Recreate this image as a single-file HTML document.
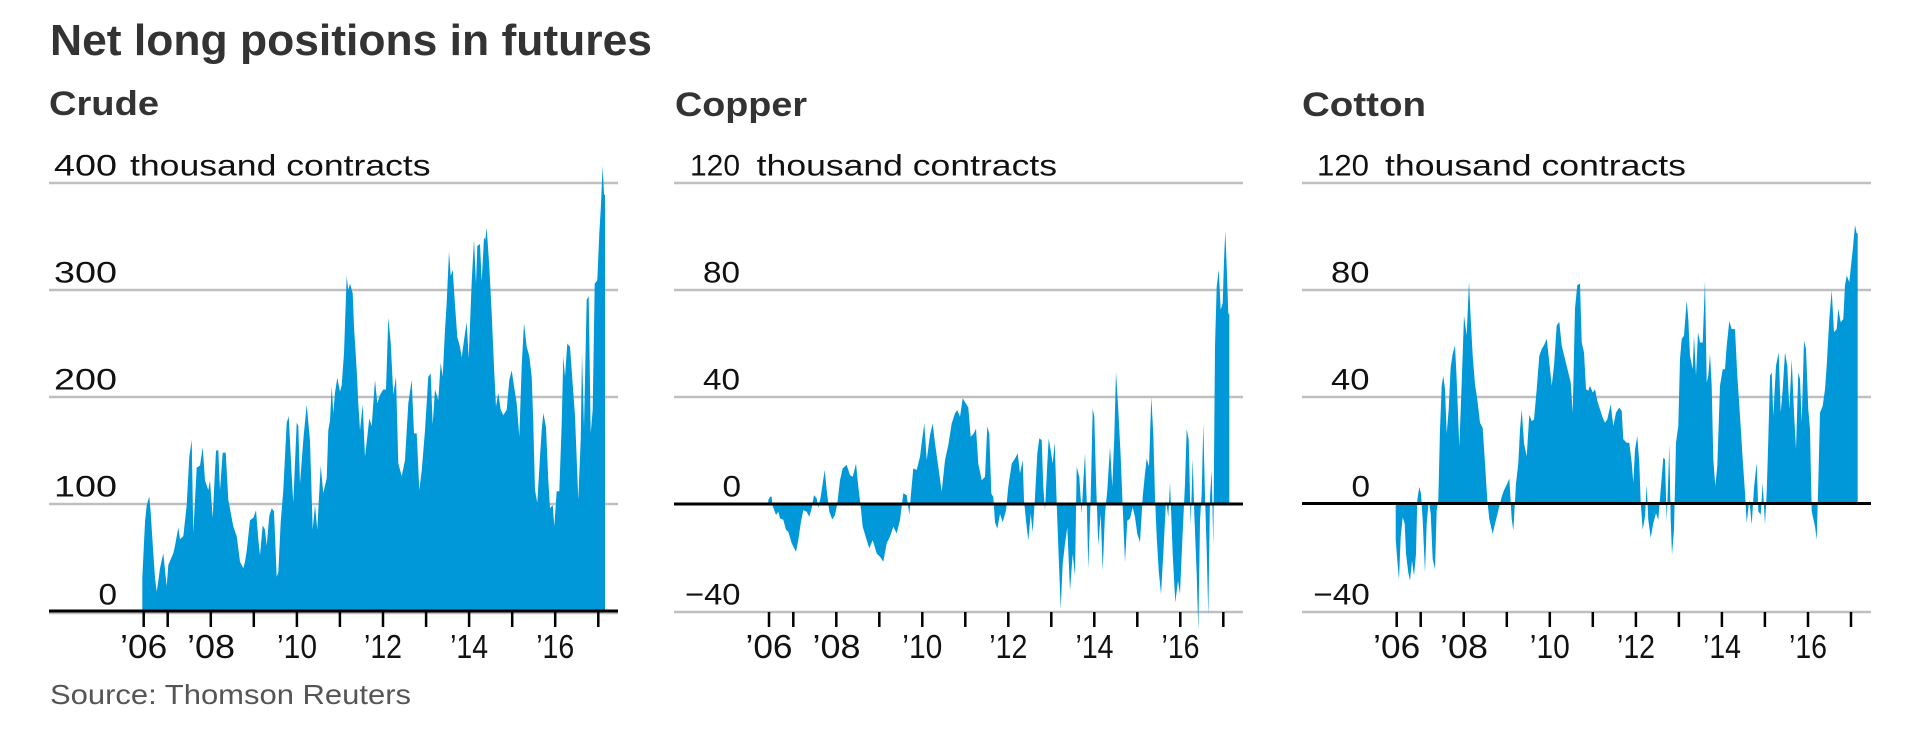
<!DOCTYPE html>
<html>
<head>
<meta charset="utf-8">
<style>
  html,body{margin:0;padding:0;background:#fff;}
  svg{display:block;}
  text{font-family:"Liberation Sans",Arial,sans-serif;}
  .t{font-weight:bold;fill:#333;}
  .lab{font-size:30px;fill:#111;}
  .yr{font-size:33px;fill:#111;text-anchor:middle;}
</style>
</head>
<body>
<svg width="1907" height="748" viewBox="0 0 1907 748" xmlns="http://www.w3.org/2000/svg">
  <rect width="1907" height="748" fill="#fff"/>

  <!-- Titles -->
  <text class="t" x="50" y="55" font-size="44" textLength="602" lengthAdjust="spacingAndGlyphs">Net long positions in futures</text>
  <text class="t" x="49" y="115" font-size="34" textLength="110" lengthAdjust="spacingAndGlyphs">Crude</text>
  <text class="t" x="675" y="116" font-size="34" textLength="132" lengthAdjust="spacingAndGlyphs">Copper</text>
  <text class="t" x="1302" y="116" font-size="34" textLength="124" lengthAdjust="spacingAndGlyphs">Cotton</text>

  <!-- Gridlines -->
  <g stroke="#bfbfbf" stroke-width="2.5">
    <line x1="49" y1="183" x2="618" y2="183"/>
    <line x1="49" y1="290" x2="618" y2="290"/>
    <line x1="49" y1="397" x2="618" y2="397"/>
    <line x1="49" y1="504" x2="618" y2="504"/>
    <line x1="49" y1="613" x2="618" y2="613"/>

    <line x1="674" y1="183" x2="1243" y2="183"/>
    <line x1="674" y1="290" x2="1243" y2="290"/>
    <line x1="674" y1="397" x2="1243" y2="397"/>
    <line x1="674" y1="612" x2="1243" y2="612"/>

    <line x1="1302" y1="183" x2="1871" y2="183"/>
    <line x1="1302" y1="290" x2="1871" y2="290"/>
    <line x1="1302" y1="397" x2="1871" y2="397"/>
    <line x1="1302" y1="612" x2="1871" y2="612"/>
  </g>

  <!-- Crude area -->
  <polygon fill="#0098d9" points="142.3,611 142.3,577.8 145,522.2 146.7,505.1 149.3,496.5 150.7,512.6 153.3,553.2 155,577.8 156.7,591.7 158.3,581 160,568.2 163.3,553.2 166.7,586.4 168.3,565 173.3,553.2 175,545.7 178.3,527.5 180,539.3 183.3,536.1 186.7,505.1 189.3,456.9 191.7,439.8 193.3,532.9 196.7,467.6 200,465.5 202.7,447.3 205,480.5 208.3,490.1 210,480.5 212.7,517.9 216,450.5 218.3,450.5 220,490.1 222.7,452.6 225.7,452.6 228.3,499.7 233.3,526.5 236.7,536.1 240,561.8 243.3,568.2 245,561.8 246.7,551.1 250,520.1 253.3,517.9 256,510.4 258.3,539.3 260,555.4 262.7,525.4 265,529.7 266.7,545.7 269.3,515.8 271.7,508.3 274,511.5 276.7,576.8 278.3,572.5 280.7,522.2 283.3,490.1 286.7,422.7 288.7,416.3 291.7,475.1 293.3,502.9 296.7,422.7 298.3,425.9 300,483.7 303.3,439.8 306.7,404.5 310,440.9 312.7,529.7 315,505.1 317.3,529.7 320.7,465.5 323.3,493.3 326.7,478.3 328.3,430.2 330,420.5 331.7,386.3 333.3,413.1 335,392.7 337.3,377.7 340,391.7 341.7,385.2 344,353.1 346.7,276.1 348.3,290 350,283.6 352.7,293.2 354,326.4 356.7,370.3 358.3,403.4 360,430.2 362.7,404.5 365,456.9 367.3,436.6 369.3,418.4 371.7,425.9 373.3,403.4 375,379.9 377.3,403.4 380,394.9 383.3,389.5 386,389.5 388.3,317.8 390.7,342.4 393.3,394.9 396,376.7 398.3,463.3 401.7,476.2 405,460.1 408.3,403.4 411.7,379.9 414,433.4 416.7,433.4 419.3,490.1 421.7,470.8 425,430.2 428.3,376.7 430.7,373.5 432.7,424.8 435,389.5 438.3,400.2 440.7,362.8 442.7,376.7 445,329.6 446.7,302.8 449,251.5 450.7,276.1 452.7,269.7 455,305 457.3,337.1 460,346.7 461.7,357.4 464,340.3 466.7,322.1 468.7,358.5 471.7,281.4 474,239.7 476,283.6 477.3,246.1 480,244 481.7,281.4 484,237.6 485.3,239.7 486.7,227.9 489.3,266.5 491.7,313.5 494,367 496,406.6 498.3,392.7 500.7,409.8 503.3,415.2 506.7,409.8 509.3,379.9 511.7,370.3 514,386.3 516.7,403.4 519.3,436.6 521.7,366 524,323.2 526.7,346.7 529.3,356.3 531.7,376.7 533.3,423.8 535,490.1 537.3,502.9 540,456.9 541.7,430.2 543.3,413.1 546,427 548.3,480.5 550,508.3 552.7,505.1 554.3,526.5 556.7,491.2 559.3,491.2 561.7,423.8 563.3,356.3 565,376.7 567.3,343.5 570,346.7 571.7,370.3 575,416.3 578.3,499.7 580.7,439.8 582,353.1 584,427 586.7,299.6 588.7,296.4 590.7,433.4 592.7,409.8 594.7,283.6 597.3,280.4 599.3,233.3 600.7,209.8 602.7,165.9 604,194.8 605,194.8 605,611"/>

  <!-- Copper area -->
  <polygon fill="#0098d9" points="768.3,503.7 768.3,500 770,496.7 771.7,496.7 772.3,505 776,515 778.3,511.7 780,518.4 783.3,519.8 786,529.9 788.3,531.8 791.7,543.3 796,551.9 798.3,540.1 800.7,523.5 803.3,510.1 806.7,511.7 809.3,516.8 811.7,508.2 814,495.1 816.7,498.4 818.3,508.2 820.7,496.7 822.7,483.4 824.7,470 826.7,490.3 829.3,511.7 832.3,519.5 835,515 837.3,503.7 840,480.2 842.7,468.4 846.7,464.9 850,475.1 852.7,476.9 856,463.6 858.3,486.6 860.7,506.6 862.7,526.7 866.7,540.1 869.3,548.4 872.7,540.1 876.7,553.5 880,556.7 883.3,561.7 886.7,543.3 890,536.6 893.3,526.7 896.7,533.4 900,520 903.3,493.3 906.7,495.1 909.3,515 910.7,496.7 913.3,468.4 916.7,470 920,456.6 922.3,438.4 924.3,423.5 926.7,460.1 930,435 932.7,423.5 935,443.2 938.3,466.8 941.7,491.7 945,460.1 948.3,445.1 951.7,423.5 955,413.3 957.3,410.1 960,416.8 962.7,398.3 965,402.1 968.3,407.4 970.7,436.8 973.3,434.1 976,428.8 978.3,463.6 981.7,480.2 985,476.9 987.3,426.1 989.3,434.1 991.3,493.5 993.3,497 995,522.2 997.3,528.8 1000,513.9 1002.7,522.2 1006,510.4 1008.3,486.8 1011.7,463.6 1015,458.5 1017.7,453.4 1020,473.5 1022.7,460.1 1024,500.2 1026,520.6 1028.3,540.6 1030.7,513.9 1032.7,532.1 1035,497 1037.3,453.4 1039.3,438.4 1041.7,440 1043.3,486.8 1045,510.4 1047.3,463.6 1048.7,438.4 1050.7,450.2 1052.7,463.6 1054.7,442.2 1056.7,503.7 1058.3,546.5 1060.7,609.1 1062.7,563.9 1065,543.8 1067.3,527.2 1070,590.6 1072.7,554 1075,575.7 1076.7,466.8 1079.3,477 1081.7,513.9 1083.3,482 1085,453.4 1086.7,500.2 1088.3,569 1090.7,497 1092.7,408.5 1094.3,416.8 1096,480.2 1098.3,545.4 1100.7,513.9 1102.7,570.6 1105,513.9 1107.3,490.3 1110,446.7 1112.3,486.8 1114.3,436.8 1116,371.6 1118.3,410.1 1120.7,456.9 1122.7,507.2 1125,562.3 1127.3,520.6 1130,518.7 1132.7,507.2 1135,517.1 1137.3,533.9 1140,542.2 1142.7,497 1145,473.5 1146.7,458.5 1149,466.8 1151.3,396.7 1153.3,434.1 1155,497 1156.7,537.1 1158.7,570.6 1161,594.1 1163.3,554 1166,500.2 1168.3,517.1 1170,482 1172.7,554 1175.3,602.4 1178,580.7 1180,594.1 1182.3,540.6 1185,483.6 1186.7,428.8 1188.7,440 1190.7,525.4 1192.7,458.5 1194.3,513.9 1196.7,574.1 1198.3,630.8 1200,520.6 1201.7,493.5 1203.3,423.5 1205,497 1206.7,550.5 1208.3,615.8 1210,497 1211.7,470.3 1213.3,547.3 1215,346.4 1216.7,287 1218.7,269.6 1220.7,309.7 1222.7,303.1 1224,260.3 1225.3,230.9 1226.7,266.2 1228.3,313.8 1229.3,313.8 1229.3,503.7"/>

  <!-- Cotton area -->
  <polygon fill="#0098d9" points="1395.7,503 1395.7,539.1 1397.3,560.8 1399,579.5 1400.7,537.2 1402.7,517.2 1404.7,523.9 1406,553.8 1408.3,572.6 1410,580.6 1412,560.8 1414,576 1416,553.8 1417.3,500.3 1419.3,487 1421,493.6 1422.7,520.4 1425,572.6 1426.7,523.9 1428.7,500.3 1430.7,513.7 1432.7,559.2 1435,569.3 1436.7,510.5 1438.3,500.3 1440,429.7 1441.7,385.8 1443.3,375.9 1445,389.3 1446.7,433.5 1448.7,409.4 1450.7,366.6 1452.7,354 1455,345.2 1456.7,380 1459.3,446.8 1461.7,382.6 1464,315.8 1466.7,335.5 1469,281.5 1470.7,318.4 1472.7,355.9 1475,384.2 1477.3,399.5 1480,422.8 1482.7,428.1 1485,463.4 1487.3,500.3 1489.3,519.1 1492.7,534 1495,523.9 1498.3,510.5 1501.7,496.8 1504,490.2 1507.3,483.5 1509.3,478.4 1511.7,519.1 1513.3,530.6 1516,483.5 1518.3,463.4 1520,429.7 1521.7,409.4 1524,443.1 1526.7,456.5 1529.3,414.7 1531.7,421.1 1534,419.5 1536.7,389.3 1539.3,355.9 1541.7,348.9 1544,345.4 1546.7,338.8 1549.3,362.3 1551.7,385.8 1554,365.8 1556.7,325.4 1559.3,321.9 1561.7,345.4 1565,359.1 1568.3,372.5 1570.7,382.6 1572.7,412.9 1575,308.5 1577.3,285 1580,283.7 1581.7,342.5 1584,352.4 1586,389.3 1588.3,390.7 1590,385.8 1592.7,392.5 1595,389.3 1597.3,400.8 1600,409.4 1602.7,417.7 1605,422.8 1607.3,419.3 1610.7,404.3 1613.3,426 1616,412.6 1619.3,407.5 1621.7,411 1623.3,439.3 1626.7,442.8 1629.3,442.8 1631.7,462.9 1633.3,482.9 1635,449.5 1637.3,436.1 1639.3,462.9 1640.7,503 1642.7,529.8 1645,516.4 1646.7,484.5 1648.3,519.9 1650.7,537.8 1653.3,523.1 1656,513.2 1658.3,519.9 1660.7,489.6 1663.3,457.8 1665,459.4 1666.7,521.5 1668.3,476.3 1669.3,444.4 1670.7,519.9 1672,554.9 1674,529.8 1676,442.8 1678.3,426 1680,359.1 1681.7,339 1684,335.5 1686.7,300.5 1688.3,319 1690,355.9 1692.7,369.3 1694,335.5 1696,375.7 1698,332.3 1700,342.5 1702.7,342.5 1705,280.4 1706.7,382.6 1708.3,375.7 1710,354 1711.7,385.8 1713.3,459.4 1715.3,486.1 1717.3,466.1 1720,385.8 1722.7,369.3 1725,369.3 1726.7,345.7 1729.3,321.1 1731.7,329.1 1735,329.1 1737.3,375.7 1740,416.1 1742.7,459.4 1745,492.8 1746.7,523.1 1749.3,499.5 1751.7,524.7 1754,488 1756.7,462.9 1758.3,511.3 1760.7,514.8 1762.7,482.9 1765,524.7 1766.7,492.8 1768.3,439.3 1770,375.7 1771.7,372.5 1773.3,416.1 1776,365.8 1778.7,352.4 1780.7,412.6 1782.7,389.3 1785,352.4 1787.3,365.8 1789.3,409.4 1791.7,359.1 1794,412.6 1796,449.5 1798.3,372.5 1800,379.1 1801.7,422.8 1804,340.6 1806,348.9 1808.3,409.4 1810,429.4 1811.7,511.3 1815,526.5 1816.7,539.9 1818.3,482.9 1820,412.6 1822.7,405.9 1825,389.3 1826.7,365.8 1829.3,319 1831.7,290.3 1834,332.3 1836.7,329.1 1838.3,308.8 1840.7,322.2 1843.3,319 1845,285.3 1846.7,275.6 1849.3,282 1850.7,268.7 1852.7,250.2 1855,225.1 1856.7,233.4 1857.7,233.4 1857.7,503"/>

  <!-- Zero axes -->
  <g stroke="#000" stroke-width="3">
    <line x1="49" y1="611" x2="618" y2="611"/>
    <line x1="674" y1="504" x2="1243" y2="504"/>
    <line x1="1302" y1="503.5" x2="1871" y2="503.5"/>
  </g>

  <!-- Ticks -->
  <g stroke="#000" stroke-width="2.5">
    <line x1="143.7" y1="611" x2="143.7" y2="627"/>
    <line x1="167.7" y1="611" x2="167.7" y2="627"/>
    <line x1="210.8" y1="611" x2="210.8" y2="627"/>
    <line x1="253.8" y1="611" x2="253.8" y2="627"/>
    <line x1="296.9" y1="611" x2="296.9" y2="627"/>
    <line x1="339.9" y1="611" x2="339.9" y2="627"/>
    <line x1="383" y1="611" x2="383" y2="627"/>
    <line x1="426.1" y1="611" x2="426.1" y2="627"/>
    <line x1="469.1" y1="611" x2="469.1" y2="627"/>
    <line x1="512.2" y1="611" x2="512.2" y2="627"/>
    <line x1="555.2" y1="611" x2="555.2" y2="627"/>
    <line x1="598.3" y1="611" x2="598.3" y2="627"/>

    <line x1="769" y1="612" x2="769" y2="627"/>
    <line x1="793.3" y1="612" x2="793.3" y2="627"/>
    <line x1="836.3" y1="612" x2="836.3" y2="627"/>
    <line x1="879.3" y1="612" x2="879.3" y2="627"/>
    <line x1="922.3" y1="612" x2="922.3" y2="627"/>
    <line x1="965.3" y1="612" x2="965.3" y2="627"/>
    <line x1="1008.3" y1="612" x2="1008.3" y2="627"/>
    <line x1="1051.3" y1="612" x2="1051.3" y2="627"/>
    <line x1="1094.3" y1="612" x2="1094.3" y2="627"/>
    <line x1="1137.3" y1="612" x2="1137.3" y2="627"/>
    <line x1="1180.3" y1="612" x2="1180.3" y2="627"/>
    <line x1="1223.3" y1="612" x2="1223.3" y2="627"/>

    <line x1="1396.7" y1="612" x2="1396.7" y2="627"/>
    <line x1="1420.7" y1="612" x2="1420.7" y2="627"/>
    <line x1="1463.7" y1="612" x2="1463.7" y2="627"/>
    <line x1="1506.8" y1="612" x2="1506.8" y2="627"/>
    <line x1="1549.8" y1="612" x2="1549.8" y2="627"/>
    <line x1="1592.8" y1="612" x2="1592.8" y2="627"/>
    <line x1="1635.9" y1="612" x2="1635.9" y2="627"/>
    <line x1="1678.9" y1="612" x2="1678.9" y2="627"/>
    <line x1="1721.9" y1="612" x2="1721.9" y2="627"/>
    <line x1="1764.9" y1="612" x2="1764.9" y2="627"/>
    <line x1="1808" y1="612" x2="1808" y2="627"/>
    <line x1="1851" y1="612" x2="1851" y2="627"/>
  </g>

  <!-- Crude y labels -->
  <text class="lab" x="54" y="175.5" textLength="63" lengthAdjust="spacingAndGlyphs">400</text>
  <text class="lab" x="130" y="175.5" textLength="300.6" lengthAdjust="spacingAndGlyphs">thousand contracts</text>
  <text class="lab" x="54" y="282.5" textLength="63" lengthAdjust="spacingAndGlyphs">300</text>
  <text class="lab" x="54" y="389.5" textLength="63" lengthAdjust="spacingAndGlyphs">200</text>
  <text class="lab" x="54" y="496.5" textLength="63" lengthAdjust="spacingAndGlyphs">100</text>
  <text class="lab" x="98.5" y="604.5" textLength="18.5" lengthAdjust="spacingAndGlyphs">0</text>

  <!-- Copper y labels -->
  <text class="lab" x="690" y="175.5" textLength="50" lengthAdjust="spacingAndGlyphs">120</text>
  <text class="lab" x="756.7" y="175.5" textLength="300.3" lengthAdjust="spacingAndGlyphs">thousand contracts</text>
  <text class="lab" x="703" y="282.5" textLength="37" lengthAdjust="spacingAndGlyphs">80</text>
  <text class="lab" x="703" y="389.5" textLength="37" lengthAdjust="spacingAndGlyphs">40</text>
  <text class="lab" x="722.5" y="496.5" textLength="18.5" lengthAdjust="spacingAndGlyphs">0</text>
  <text class="lab" x="685" y="604.5" textLength="55.5" lengthAdjust="spacingAndGlyphs">−40</text>

  <!-- Cotton y labels -->
  <text class="lab" x="1317" y="175.5" textLength="52" lengthAdjust="spacingAndGlyphs">120</text>
  <text class="lab" x="1385" y="175.5" textLength="301" lengthAdjust="spacingAndGlyphs">thousand contracts</text>
  <text class="lab" x="1331" y="282.5" textLength="38.5" lengthAdjust="spacingAndGlyphs">80</text>
  <text class="lab" x="1331" y="389.5" textLength="38.5" lengthAdjust="spacingAndGlyphs">40</text>
  <text class="lab" x="1351.5" y="496.5" textLength="18.5" lengthAdjust="spacingAndGlyphs">0</text>
  <text class="lab" x="1313.3" y="604.5" textLength="56.5" lengthAdjust="spacingAndGlyphs">−40</text>

  <!-- Year labels -->
  <text class="yr" x="143.7" y="658" textLength="47" lengthAdjust="spacingAndGlyphs">’06</text>
  <text class="yr" x="211" y="658" textLength="48" lengthAdjust="spacingAndGlyphs">’08</text>
  <text class="yr" x="297" y="658" textLength="40" lengthAdjust="spacingAndGlyphs">’10</text>
  <text class="yr" x="383" y="658" textLength="38" lengthAdjust="spacingAndGlyphs">’12</text>
  <text class="yr" x="469.1" y="658" textLength="38" lengthAdjust="spacingAndGlyphs">’14</text>
  <text class="yr" x="555.2" y="658" textLength="38" lengthAdjust="spacingAndGlyphs">’16</text>

  <text class="yr" x="769" y="658" textLength="47" lengthAdjust="spacingAndGlyphs">’06</text>
  <text class="yr" x="836.5" y="658" textLength="48" lengthAdjust="spacingAndGlyphs">’08</text>
  <text class="yr" x="922.3" y="658" textLength="40" lengthAdjust="spacingAndGlyphs">’10</text>
  <text class="yr" x="1008.3" y="658" textLength="38" lengthAdjust="spacingAndGlyphs">’12</text>
  <text class="yr" x="1094.5" y="658" textLength="38" lengthAdjust="spacingAndGlyphs">’14</text>
  <text class="yr" x="1180.5" y="658" textLength="38" lengthAdjust="spacingAndGlyphs">’16</text>

  <text class="yr" x="1396.7" y="658" textLength="47" lengthAdjust="spacingAndGlyphs">’06</text>
  <text class="yr" x="1464" y="658" textLength="48" lengthAdjust="spacingAndGlyphs">’08</text>
  <text class="yr" x="1549.8" y="658" textLength="40" lengthAdjust="spacingAndGlyphs">’10</text>
  <text class="yr" x="1636" y="658" textLength="38" lengthAdjust="spacingAndGlyphs">’12</text>
  <text class="yr" x="1722" y="658" textLength="38" lengthAdjust="spacingAndGlyphs">’14</text>
  <text class="yr" x="1808" y="658" textLength="38" lengthAdjust="spacingAndGlyphs">’16</text>

  <!-- Source -->
  <text x="50" y="704" font-size="28" fill="#555" textLength="361" lengthAdjust="spacingAndGlyphs">Source: Thomson Reuters</text>
</svg>
</body>
</html>
